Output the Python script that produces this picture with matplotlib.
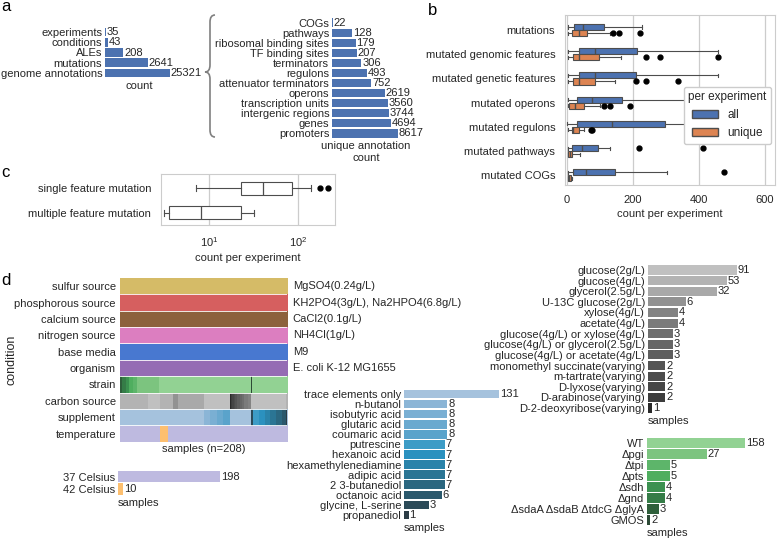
import numpy as np
import matplotlib
matplotlib.use("Agg")
import matplotlib.pyplot as plt
import matplotlib.transforms as mtrans
from matplotlib.path import Path
from matplotlib.patches import PathPatch, Patch
from matplotlib.colors import to_rgb
from matplotlib.ticker import NullLocator

# ---- panel a data
overview_labels = ["experiments", "conditions", "ALEs", "mutations", "genome annotations"]
overview_counts = [35, 43, 208, 2641, 25321]
annot_labels = ["COGs", "pathways", "ribosomal binding sites", "TF binding sites", "terminators",
                "regulons", "attenuator terminators", "operons", "transcription units",
                "intergenic regions", "genes", "promoters"]
annot_counts = [22, 128, 179, 207, 306, 493, 752, 2619, 3560, 3744, 4694, 8617]

# ---- panel b data (box stats)
b_categories = ["mutations", "mutated genomic features", "mutated genetic features",
                "mutated operons", "mutated regulons", "mutated pathways", "mutated COGs"]
all_whislo = [5, 3, 3, 3, 1, 3, 3]
all_q1 = [23, 36, 36, 30, 32, 17, 20]
all_med = [49, 85, 85, 78, 137, 46, 59]
all_q3 = [112, 213, 211, 167, 297, 94, 147]
all_whishi = [228, 459, 459, 360, 440, 132, 304]
all_fliers = [[], [], [], [], [], [219, 412], [475]]
uniq_whislo = [5, 5, 5, 3, 3, 3, 3]
uniq_q1 = [17, 18, 18, 8, 15, 3, 5]
uniq_med = [37, 37, 37, 26, 20, 10, 8]
uniq_q3 = [63, 99, 85, 51, 36, 17, 12]
uniq_whishi = [132, 164, 147, 100, 53, 41, 16]
uniq_fliers = [[140, 159, 221], [239, 282, 459], [210, 239, 338], [114, 130, 191], [73, 78], [], []]

# ---- panel c data
c_categories = ["single feature mutation", "multiple feature mutation"]
c_whislo = [7.1, 3.1]
c_q1 = [23, 3.6]
c_med = [41, 8.1]
c_q3 = [86, 22.7]
c_whishi = [139, 32.3]
c_fliers = [[177, 219], []]

# ---- panel d data
cond_rows = ["sulfur source", "phosphorous source", "calcium source", "nitrogen source",
             "base media", "organism", "strain", "carbon source", "supplement", "temperature"]
const_values = ["MgSO4(0.24g/L)", "KH2PO4(3g/L), Na2HPO4(6.8g/L)", "CaCl2(0.1g/L)",
                "NH4Cl(1g/L)", "M9", "E. coli K-12 MG1655"]
const_colors = ["#d5bb67", "#d65f5f", "#8c613c", "#dc7ec0", "#4878d0", "#956cb4"]
n_samples = 208

strain_labels = ["WT", "Δpgi", "Δtpi", "Δpts", "Δsdh", "Δgnd", "ΔsdaA ΔsdaB ΔtdcG ΔglyA", "GMOS"]
strain_counts = [158, 27, 5, 5, 4, 4, 3, 2]
strain_colors = ["#92d293", "#7cc47f", "#5db56a", "#4fae5f", "#3b9150", "#357c47", "#2f5f3b", "#2d4a36"]
strain_runs = [("ΔsdaA ΔsdaB ΔtdcG ΔglyA", 3), ("Δgnd", 4), ("Δsdh", 4), ("Δpts", 5), ("Δtpi", 5),
               ("Δpgi", 27), ("WT", 114), ("GMOS", 2), ("WT", 44)]

carbon_labels = ["glucose(2g/L)", "glucose(4g/L)", "glycerol(2.5g/L)", "U-13C glucose(2g/L)",
                 "xylose(4g/L)", "acetate(4g/L)", "glucose(4g/L) or xylose(4g/L)",
                 "glucose(4g/L) or glycerol(2.5g/L)", "glucose(4g/L) or acetate(4g/L)",
                 "monomethyl succinate(varying)", "m-tartrate(varying)", "D-lyxose(varying)",
                 "D-arabinose(varying)", "D-2-deoxyribose(varying)"]
carbon_counts = [91, 53, 32, 6, 4, 4, 3, 3, 3, 2, 2, 2, 2, 1]
carbon_colors = ["#c0c0c0", "#b3b3b3", "#a9a9a9", "#929292", "#838383", "#7b7b7b", "#6e6e6e",
                 "#666666", "#5e5e5e", "#545454", "#4c4c4c", "#454545", "#3d3d3d", "#2a2a2a"]
carbon_runs = [("glucose(4g/L)", 35), ("glucose(2g/L)", 15), ("glucose(4g/L)", 16),
               ("U-13C glucose(2g/L)", 6), ("glycerol(2.5g/L)", 32), ("glucose(2g/L)", 32),
               ("D-2-deoxyribose(varying)", 1), ("D-arabinose(varying)", 2), ("D-lyxose(varying)", 2),
               ("m-tartrate(varying)", 2), ("monomethyl succinate(varying)", 2),
               ("glucose(4g/L) or acetate(4g/L)", 3), ("glucose(4g/L) or glycerol(2.5g/L)", 3),
               ("glucose(4g/L) or xylose(4g/L)", 3), ("acetate(4g/L)", 4), ("xylose(4g/L)", 4),
               ("glucose(2g/L)", 44), ("glucose(4g/L)", 2)]

supp_labels = ["trace elements only", "n-butanol", "isobutyric acid", "glutaric acid", "coumaric acid",
               "putrescine", "hexanoic acid", "hexamethylenediamine", "adipic acid", "2 3-butanediol",
               "octanoic acid", "glycine, L-serine", "propanediol"]
supp_counts = [131, 8, 8, 8, 8, 7, 7, 7, 7, 7, 6, 3, 1]
supp_colors = ["#a5c2dd", "#8bb5d6", "#7aafd3", "#6aa9cf", "#5aa3cb", "#3d9cc6", "#2b91bf",
               "#2a83aa", "#2b7594", "#2b6780", "#2a586c", "#2b4a58", "#2b3c45"]
supp_runs = [("trace elements only", 104), ("n-butanol", 8), ("isobutyric acid", 8),
             ("glutaric acid", 8), ("coumaric acid", 8), ("trace elements only", 26),
             ("glycine, L-serine", 3), ("putrescine", 7), ("hexanoic acid", 7),
             ("hexamethylenediamine", 7), ("adipic acid", 7), ("2 3-butanediol", 7),
             ("octanoic acid", 6), ("propanediol", 1), ("trace elements only", 1)]

temp_labels = ["37 Celsius", "42 Celsius"]
temp_counts = [198, 10]
temp_colors = ["#bebae0", "#fdbf6f"]
temp_runs = [("37 Celsius", 50), ("42 Celsius", 10), ("37 Celsius", 148)]

plt.rcParams.update({
    "font.family": ["Liberation Sans", "DejaVu Sans"],
    "font.size": 8,
    "text.color": "0.15",
    "axes.labelcolor": "0.15",
    "xtick.color": "0.15",
    "ytick.color": "0.15",
    "axes.linewidth": 0.8,
})

W, H = 778, 541
fig = plt.figure(figsize=(W / 100, H / 100), dpi=100)


def px_axes(x0, y0, x1, y1):
    # axes from pixel box (origin top-left)
    return fig.add_axes([x0 / W, 1 - y1 / H, (x1 - x0) / W, (y1 - y0) / H])


def count_bars(ax, labels, values, colors, xlim, log=True, height=0.85, xlabel="samples",
               label_loc="left"):
    y = np.arange(len(labels))
    if log:
        ax.set_xscale("log")
    ax.barh(y, np.array(values) - xlim[0], left=xlim[0], height=height, color=colors)
    for yi, v in zip(y, values):
        ax.annotate(str(v), (v, yi), xytext=(0.5, 0), textcoords="offset points",
                    va="center", ha="left")
    ax.set_xlim(*xlim)
    ax.set_ylim(len(labels) - 0.5, -0.5)
    ax.set_yticks(y)
    ax.set_yticklabels(labels)
    ax.tick_params(axis="y", length=0, pad=2)
    ax.set_xticks([])
    ax.xaxis.set_minor_locator(NullLocator())
    for s in ax.spines.values():
        s.set_visible(False)
    ax.set_xlabel(xlabel, loc=label_loc, labelpad=2)


# ---------------- panel a
ax = px_axes(105, 27, 173, 78)
count_bars(ax, overview_labels, overview_counts, "#4c72b0", (31.6, 34300), xlabel="count",
           label_loc="center")
ax = px_axes(332, 17.7, 400, 138.3)
count_bars(ax, annot_labels, annot_counts, "#4c72b0", (20.4, 10500),
           xlabel="unique annotation\ncount", label_loc="center")

# curly brace between the two lists
to_fig = mtrans.Affine2D().scale(1 / W, -1 / H).translate(0, 1) + fig.transFigure
verts = [(215, 15), (210, 15), (210, 22), (210, 65), (210, 72), (205, 72),
         (210, 72), (210, 79), (210, 130), (210, 137), (215, 137)]
codes = [Path.MOVETO, Path.CURVE3, Path.CURVE3, Path.LINETO, Path.CURVE3, Path.CURVE3,
         Path.CURVE3, Path.CURVE3, Path.LINETO, Path.CURVE3, Path.CURVE3]
fig.add_artist(PathPatch(Path(verts, codes), transform=to_fig, fill=False,
                         edgecolor="0.5", lw=1.2))

# ---------------- panel b
ax = px_axes(565, 15, 775, 185)
pos = np.arange(len(b_categories))
common = dict(patch_artist=True, widths=0.25, orientation="horizontal",
              medianprops=dict(color="0.3", lw=1),
              whiskerprops=dict(color="0.3", lw=0.8), capprops=dict(color="0.3", lw=0.8),
              flierprops=dict(marker="o", mfc="k", mec="k", ms=3.5, ls="none"))
for sw, q1, md, q3, wh, fl, off, col in [
        (all_whislo, all_q1, all_med, all_q3, all_whishi, all_fliers, -0.125, "#4c72b0"),
        (uniq_whislo, uniq_q1, uniq_med, uniq_q3, uniq_whishi, uniq_fliers, 0.125, "#dd8452")]:
    stats = [dict(whislo=a, q1=b, med=c, q3=d, whishi=e, fliers=f)
             for a, b, c, d, e, f in zip(sw, q1, md, q3, wh, fl)]
    ax.bxp(stats, positions=pos + off, boxprops=dict(facecolor=col, edgecolor="0.3", lw=0.8),
           manage_ticks=False, **common)
ax.set_xlim(-5, 630)
ax.set_ylim(6.4, -0.62)
ax.set_yticks(pos)
ax.set_yticklabels(b_categories)
ax.set_xticks([0, 200, 400, 600])
ax.tick_params(length=0, pad=7)
ax.grid(axis="x", color="#cccccc", lw=0.9)
ax.set_axisbelow(True)
for s in ax.spines.values():
    s.set_color("#cccccc")
ax.set_xlabel("count per experiment", labelpad=3)
ax.legend(handles=[Patch(facecolor="#4c72b0", edgecolor="0.3", label="all"),
                   Patch(facecolor="#dd8452", edgecolor="0.3", label="unique")],
          title="per experiment", loc="center right", bbox_to_anchor=(1.0, 0.41),
          fontsize=8.5, title_fontsize=8.5, handlelength=2.2, borderaxespad=0.3,
          edgecolor="#cccccc", framealpha=1)

# ---------------- panel c
ax = px_axes(161, 174, 335, 225)
stats = [dict(whislo=a, q1=b, med=c, q3=d, whishi=e, fliers=f)
         for a, b, c, d, e, f in zip(c_whislo, c_q1, c_med, c_q3, c_whishi, c_fliers)]
ax.bxp(stats, positions=[0, 1], patch_artist=True, widths=0.52, orientation="horizontal",
       boxprops=dict(facecolor="white", edgecolor="0.3", lw=0.8),
       medianprops=dict(color="0.3", lw=0.9), whiskerprops=dict(color="0.3", lw=0.8),
       capprops=dict(color="0.3", lw=0.8),
       flierprops=dict(marker="o", mfc="k", mec="k", ms=3.5, ls="none"), manage_ticks=False)
ax.set_xscale("log")
ax.set_xlim(2.9, 261)
ax.set_ylim(1.48, -0.56)
ax.set_xticks([10, 100])
ax.xaxis.set_minor_locator(NullLocator())
ax.set_yticks([0, 1])
ax.set_yticklabels(c_categories)
ax.tick_params(length=0, pad=7)
ax.grid(axis="x", color="#cccccc", lw=0.9)
ax.set_axisbelow(True)
for s in ax.spines.values():
    s.set_color("#cccccc")
ax.set_xlabel("count per experiment", labelpad=3)

# ---------------- panel d heatmap
row_runs = [[(v, n_samples)] for v in const_values] + [strain_runs, carbon_runs, supp_runs, temp_runs]
row_cmaps = [{v: c} for v, c in zip(const_values, const_colors)] + [
    dict(zip(strain_labels, strain_colors)), dict(zip(carbon_labels, carbon_colors)),
    dict(zip(supp_labels, supp_colors)), dict(zip(temp_labels, temp_colors))]
img = np.zeros((len(cond_rows), n_samples, 3))
for r, (runs, cmap) in enumerate(zip(row_runs, row_cmaps)):
    cols = [to_rgb(cmap[name]) for name, cnt in runs for _ in range(cnt)]
    img[r] = cols

ax = px_axes(120, 278, 287.3, 441.7)
ax.imshow(img, aspect="auto", interpolation="nearest",
          extent=(-0.5, n_samples - 0.5, len(cond_rows) - 0.5, -0.5))
for yy in np.arange(0.5, len(cond_rows) - 0.5):
    ax.axhline(yy, color="white", lw=0.6)
ax.set_yticks(np.arange(len(cond_rows)))
ax.set_yticklabels(cond_rows)
ax.set_xticks([])
ax.tick_params(axis="y", length=0, pad=3)
for s in ax.spines.values():
    s.set_visible(False)
ax.set_xlabel("samples (n=208)", labelpad=2)
for r, v in enumerate(const_values):
    ax.annotate(v, (1, r), xycoords=("axes fraction", "data"), xytext=(4, 0),
                textcoords="offset points", va="center", ha="left")
fig.text(12 / W, 1 - 360 / H, "condition", rotation=90, ha="center", va="center", fontsize=9)

# ---------------- panel d bar charts
ax = px_axes(118, 470.5, 220, 495.2)
count_bars(ax, temp_labels, temp_counts, temp_colors, (0, 198), log=False, height=0.9)
ax = px_axes(404, 389, 504, 520)
count_bars(ax, supp_labels, supp_counts, supp_colors, (0.77, 171))
ax = px_axes(648, 264.7, 743, 413.3)
count_bars(ax, carbon_labels, carbon_counts, carbon_colors, (0.79, 125.7))
ax = px_axes(647, 437.5, 747, 525.5)
count_bars(ax, strain_labels, strain_counts, strain_colors, (1.72, 173))

# panel letters
for letter, x, y in [("a", 1, 11), ("b", 428, 15), ("c", 1, 177), ("d", 1, 285)]:
    fig.text(x / W, 1 - y / H, letter, fontsize=12, ha="left", va="baseline", color="k")

fig.savefig("out.png", dpi=100)
